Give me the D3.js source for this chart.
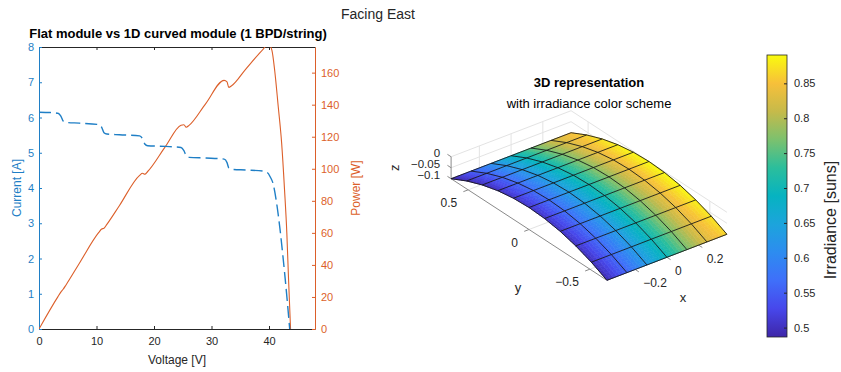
<!DOCTYPE html>
<html>
<head>
<meta charset="utf-8">
<script src="https://cdn.jsdelivr.net/npm/d3@7"></script>
<style>
  body { margin: 0; background: #fff; }
  svg { display: block; font-family: "Liberation Sans", Arial, Helvetica, sans-serif; }
</style>
</head>
<body>
<svg id="chart" width="841" height="372"></svg>
<script>
// ---- IV / PV curve (left) ----
const ivVoltage = [0, 2, 3.3, 3.8, 4.2, 4.7, 7, 10.4, 10.9, 11.3, 11.8, 14, 17.5, 18.0, 18.4, 18.9, 22, 24.7, 25.2, 25.6, 26.1, 29,
    32.2, 32.7, 33.0, 33.5, 36, 39.0, 39.7, 40.2, 40.75, 41.3, 41.9, 42.4, 42.8, 43.2, 43.6];
const current = [6.15, 6.14, 6.12, 6.04, 5.90, 5.86, 5.84, 5.80, 5.72, 5.57, 5.53, 5.51, 5.48, 5.40, 5.25, 5.20, 5.18, 5.15, 5.06, 4.92, 4.87, 4.85,
    4.82, 4.72, 4.57, 4.53, 4.51, 4.48, 4.44, 4.32, 4.10, 3.60, 2.85, 2.10, 1.45, 0.75, 0];
const pvVoltage = [0, 3.3, 3.8, 4.2, 4.7, 7, 10.4, 10.9, 11.3, 11.8, 14, 17.5, 18.0, 18.4, 18.9, 22, 24.7, 25.2, 25.6, 26.1, 29,
    32.2, 32.7, 33.0, 33.5, 36, 39.0, 39.9, 40.5, 41.0, 41.6, 42.2, 42.7, 43.1, 43.4, 43.75];
const power = [0, 20.2, 23.0, 24.8, 27.5, 40.9, 60.3, 62.4, 62.9, 65.3, 77.1, 95.9, 97.2, 96.6, 98.3, 114.0, 127.2, 127.5, 125.9, 127.1, 140.7,
    155.2, 154.3, 150.8, 151.8, 162.4, 174.7, 178, 174, 161, 139, 116, 87, 60, 31, 0];
const voltageTicks = [0, 10, 20, 30, 40];
const currentTicks = [0, 1, 2, 3, 4, 5, 6, 7, 8];
const powerTicks = [0, 20, 40, 60, 80, 100, 120, 140, 160];

// ---- 3D module (right) ----
const surfX = [-0.378, -0.252, -0.126, 0, 0.126, 0.252, 0.378];
const surfY = [-0.64, -0.512, -0.384, -0.256, -0.128, 0, 0.128, 0.256, 0.384, 0.512, 0.64];
const surfZ = [-0.100, -0.064, -0.036, -0.016, -0.004, 0, -0.004, -0.016, -0.036, -0.064, -0.100]; // bend along y
// irradiance [suns], rows follow surfY, columns follow surfX
const irradiance = [
  [0.493, 0.556, 0.626, 0.697, 0.766, 0.828, 0.866],
  [0.497, 0.560, 0.630, 0.701, 0.771, 0.834, 0.876],
  [0.500, 0.563, 0.633, 0.704, 0.775, 0.838, 0.884],
  [0.502, 0.565, 0.635, 0.706, 0.777, 0.840, 0.889],
  [0.503, 0.566, 0.636, 0.707, 0.778, 0.841, 0.8906],
  [0.503, 0.566, 0.636, 0.707, 0.778, 0.841, 0.8906],
  [0.502, 0.565, 0.635, 0.706, 0.777, 0.840, 0.889],
  [0.499, 0.562, 0.632, 0.703, 0.774, 0.837, 0.884],
  [0.495, 0.558, 0.628, 0.699, 0.769, 0.832, 0.876],
  [0.491, 0.553, 0.623, 0.693, 0.763, 0.825, 0.865],
  [0.4865, 0.548, 0.617, 0.687, 0.756, 0.817, 0.852]
];
const xTicks3d = [-0.2, 0, 0.2];
const yTicks3d = [-0.5, 0, 0.5];
const zTicks3d = [-0.1, -0.05, 0];
const colorbarTicks = [0.5, 0.55, 0.6, 0.65, 0.7, 0.75, 0.8, 0.85];

const parula = ["#3e26a8", "#4747eb", "#3f6ffa", "#2d8cf0", "#1ca4dc", "#06b3c1",
                "#2bbe9c", "#7cc16e", "#c6ba4a", "#f7c03a", "#f9fb0e"];

const svg = d3.select("#chart");
const ink = "#262626";
const blue = "#1f7fc6";
const orange = "#dc5f2a";

svg.append("text")
    .attr("x", 378).attr("y", 19)
    .attr("text-anchor", "middle")
    .attr("font-size", 14)
    .attr("fill", ink)
    .text("Facing East");

// ================= left: IV / PV =================
var x = d3.scaleLinear().domain([0, 48]).range([39, 315]);
var yI = d3.scaleLinear().domain([0, 8]).range([329, 47]);
var yP = d3.scaleLinear().domain([0, 176]).range([329, 47]);

var left = svg.append("g");

left.append("clipPath").attr("id", "ivclip")
    .append("rect").attr("x", 39).attr("y", 47).attr("width", 276).attr("height", 282);

// top box line
left.append("g")
    .attr("transform", "translate(0,47)")
    .call(d3.axisTop(x).tickValues(voltageTicks).tickSize(-3).tickSizeOuter(0).tickFormat(""))
    .call(g => g.selectAll("path,line").attr("stroke", ink));

left.append("g")
    .attr("transform", "translate(0,329)")
    .call(d3.axisBottom(x).tickValues(voltageTicks).tickSize(-3).tickSizeOuter(0).tickPadding(8))
    .call(g => g.selectAll("path,line").attr("stroke", ink))
    .call(g => g.selectAll("text").attr("fill", ink).attr("font-size", 11).attr("font-family", null));

left.append("g")
    .attr("transform", "translate(39,0)")
    .call(d3.axisLeft(yI).tickValues(currentTicks).tickSize(-3).tickSizeOuter(0).tickPadding(5))
    .call(g => g.selectAll("path,line").attr("stroke", blue))
    .call(g => g.selectAll("text").attr("fill", blue).attr("font-size", 11).attr("font-family", null));

left.append("g")
    .attr("transform", "translate(315,0)")
    .call(d3.axisRight(yP).tickValues(powerTicks).tickSize(-3).tickSizeOuter(0).tickPadding(6))
    .call(g => g.selectAll("path,line").attr("stroke", orange))
    .call(g => g.selectAll("text").attr("fill", orange).attr("font-size", 11).attr("font-family", null));

var ivLine = d3.line()
    .curve(d3.curveMonotoneX)
    .x(function (d, i) { return x(ivVoltage[i]); })
    .y(function (d) { return yI(d); });

var pvLine = d3.line()
    .curve(d3.curveMonotoneX)
    .x(function (d, i) { return x(pvVoltage[i]); })
    .y(function (d) { return yP(d); });

left.append("path")
    .attr("clip-path", "url(#ivclip)")
    .attr("d", pvLine(power))
    .attr("fill", "none")
    .attr("stroke", orange)
    .attr("stroke-width", 1.1);

left.append("path")
    .attr("clip-path", "url(#ivclip)")
    .attr("d", ivLine(current))
    .attr("fill", "none")
    .attr("stroke", blue)
    .attr("stroke-width", 1.4)
    .attr("stroke-dasharray", "12,5");

left.append("text")
    .attr("x", 178).attr("y", 38)
    .attr("text-anchor", "middle")
    .attr("font-size", 13).attr("font-weight", "bold")
    .attr("fill", "#000")
    .text("Flat module vs 1D curved module (1 BPD/string)");

left.append("text")
    .attr("x", 177).attr("y", 364)
    .attr("text-anchor", "middle")
    .attr("font-size", 12)
    .attr("fill", ink)
    .text("Voltage [V]");

left.append("text")
    .attr("transform", "translate(21,188) rotate(-90)")
    .attr("text-anchor", "middle")
    .attr("font-size", 12)
    .attr("fill", blue)
    .text("Current [A]");

left.append("text")
    .attr("transform", "translate(360,188) rotate(-90)")
    .attr("text-anchor", "middle")
    .attr("font-size", 12)
    .attr("fill", orange)
    .text("Power [W]");

// ================= right: 3D surface =================
const xLim3d = [-0.378, 0.378], yLim3d = [-0.64, 0.64], zLim3d = [-0.1, 0];
const az = -37.5 * Math.PI / 180, el = 30 * Math.PI / 180;
const px3 = d3.scaleLinear().domain(xLim3d).range([-75.6, 75.6]);
const py3 = d3.scaleLinear().domain(yLim3d).range([-128, 128]);
const pz3 = d3.scaleLinear().domain(zLim3d).range([-25.4, 0]);
const origin3d = [589, 184.5];

function project(p) {
    var a = px3(p[0]), b = py3(p[1]), c = pz3(p[2]);
    var u = Math.cos(az) * a + Math.sin(az) * b;
    var v = -Math.sin(el) * Math.sin(az) * a + Math.sin(el) * Math.cos(az) * b + Math.cos(el) * c;
    return [origin3d[0] + u, origin3d[1] - v];
}
function depth(p) {
    return px3(p[0]) * Math.sin(az) * Math.cos(el) - py3(p[1]) * Math.cos(az) * Math.cos(el) + pz3(p[2]) * Math.sin(el);
}

var cmap = d3.scaleLinear()
    .domain(d3.range(parula.length).map(function (i) { return i / (parula.length - 1); }))
    .range(parula)
    .interpolate(d3.interpolateRgb)
    .clamp(true);
var cLim = [d3.min(irradiance.flat()), d3.max(irradiance.flat())];
var cNorm = d3.scaleLinear().domain(cLim).range([0, 1]);

var plot3 = svg.append("g");
var seg = d3.line();
var grid = plot3.append("g").attr("stroke", "#e3e3e3").attr("stroke-width", 1).attr("fill", "none");
function line3(g, a, b) { g.append("path").attr("d", seg([project(a), project(b)])); }

var xmin = xLim3d[0], xmax = xLim3d[1], ymin = yLim3d[0], ymax = yLim3d[1], zmin = zLim3d[0], zmax = zLim3d[1];
xTicks3d.forEach(function (t) {
    line3(grid, [t, ymax, zmin], [t, ymax, zmax]);
    line3(grid, [t, ymin, zmin], [t, ymax, zmin]);
});
yTicks3d.forEach(function (t) {
    line3(grid, [xmax, t, zmin], [xmax, t, zmax]);
    line3(grid, [xmin, t, zmin], [xmax, t, zmin]);
});
zTicks3d.forEach(function (t) {
    line3(grid, [xmin, ymax, t], [xmax, ymax, t]);
    line3(grid, [xmax, ymin, t], [xmax, ymax, t]);
});

var axes3 = plot3.append("g").attr("stroke", "#8a8a8a").attr("stroke-width", 1).attr("fill", "none");
line3(axes3, [xmin, ymin, zmin], [xmax, ymin, zmin]);
line3(axes3, [xmin, ymin, zmin], [xmin, ymax, zmin]);
line3(axes3, [xmin, ymax, zmin], [xmin, ymax, zmax]);
xTicks3d.forEach(function (t) { line3(axes3, [t, ymin, zmin], [t, ymin - 0.03, zmin]); });
yTicks3d.forEach(function (t) { line3(axes3, [xmin, t, zmin], [xmin - 0.03, t, zmin]); });
zTicks3d.forEach(function (t) { line3(axes3, [xmin, ymax, t], [xmin, ymax + 0.03, t]); });

// faces with interpolated colour
var cells = [];
for (var j = 0; j < surfY.length - 1; j++) {
    for (var i = 0; i < surfX.length - 1; i++) {
        cells.push({ i: i, j: j, d: depth([(surfX[i] + surfX[i + 1]) / 2, (surfY[j] + surfY[j + 1]) / 2, (surfZ[j] + surfZ[j + 1]) / 2]) });
    }
}
cells.sort(function (a, b) { return a.d - b.d; });

var faces = plot3.append("g");
var sub = 6;
cells.forEach(function (c) {
    var i = c.i, j = c.j;
    function at(s, t) {
        return [surfX[i] + (surfX[i + 1] - surfX[i]) * s,
                surfY[j] + (surfY[j + 1] - surfY[j]) * t,
                surfZ[j] + (surfZ[j + 1] - surfZ[j]) * t];
    }
    function val(s, t) {
        var a = irradiance[j][i], b = irradiance[j][i + 1], cc = irradiance[j + 1][i], dd = irradiance[j + 1][i + 1];
        return a * (1 - s) * (1 - t) + b * s * (1 - t) + cc * (1 - s) * t + dd * s * t;
    }
    for (var a = 0; a < sub; a++) {
        for (var b = 0; b < sub; b++) {
            var s0 = a / sub, s1 = (a + 1) / sub, t0 = b / sub, t1 = (b + 1) / sub;
            var col = cmap(cNorm(val((s0 + s1) / 2, (t0 + t1) / 2)));
            faces.append("path")
                .attr("d", seg([at(s0, t0), at(s1, t0), at(s1, t1), at(s0, t1)].map(project)) + "Z")
                .attr("fill", col)
                .attr("stroke", col)
                .attr("stroke-width", 0.6);
        }
    }
});

// mesh edges
var edges = plot3.append("g").attr("fill", "none").attr("stroke", "#141414").attr("stroke-width", 1).attr("stroke-opacity", 0.85);
surfY.forEach(function (yv, j) {
    edges.append("path").attr("d", seg(surfX.map(function (xv) { return project([xv, yv, surfZ[j]]); })));
});
surfX.forEach(function (xv) {
    edges.append("path").attr("d", seg(surfY.map(function (yv, j) { return project([xv, yv, surfZ[j]]); })));
});

// tick labels
var lab3 = plot3.append("g").attr("font-size", 12).attr("fill", ink);
xTicks3d.forEach(function (t) {
    var p = project([t, ymin, zmin]);
    lab3.append("text").attr("x", p[0] + 8).attr("y", p[1] + 18).attr("text-anchor", "start").text(d3.format("")(t).replace("-", "\u2212"));
});
yTicks3d.forEach(function (t) {
    var p = project([xmin, t, zmin]);
    lab3.append("text").attr("x", p[0] - 11).attr("y", p[1] + 17).attr("text-anchor", "end").text(d3.format("")(t).replace("-", "\u2212"));
});
zTicks3d.forEach(function (t) {
    var p = project([xmin, ymax, t]);
    lab3.append("text").attr("x", p[0] - 11).attr("y", p[1] + 0.5).attr("text-anchor", "end")
        .attr("font-size", 11.5).text(d3.format("")(t).replace("-", "\u2212"));
});

var xMid = project([0, ymin, zmin]), yMid = project([xmin, 0, zmin]), zMid = project([xmin, ymax, (zmin + zmax) / 2]);
lab3.append("text").attr("x", xMid[0] + 16).attr("y", xMid[1] + 45).attr("text-anchor", "middle").attr("font-size", 13).text("x");
lab3.append("text").attr("x", yMid[0] - 11).attr("y", yMid[1] + 62).attr("text-anchor", "middle").attr("font-size", 13).text("y");
lab3.append("text").attr("transform", "translate(" + (zMid[0] - 52) + "," + zMid[1] + ") rotate(-90)")
    .attr("text-anchor", "middle").attr("font-size", 13).text("z");

plot3.append("text").attr("x", 589).attr("y", 87).attr("text-anchor", "middle")
    .attr("font-size", 13).attr("font-weight", "bold").attr("fill", "#000").text("3D representation");
plot3.append("text").attr("x", 589).attr("y", 108).attr("text-anchor", "middle")
    .attr("font-size", 13).attr("fill", "#000").text("with irradiance color scheme");

// ================= colorbar =================
var cb = d3.scaleLinear().domain(cLim).range([337, 55]);
var defs = svg.append("defs");
var grad = defs.append("linearGradient").attr("id", "parulaGrad")
    .attr("x1", 0).attr("y1", 1).attr("x2", 0).attr("y2", 0);
parula.forEach(function (c, k) {
    grad.append("stop").attr("offset", k / (parula.length - 1)).attr("stop-color", c);
});
svg.append("rect").attr("x", 767).attr("y", cb(cLim[1])).attr("width", 20).attr("height", cb(cLim[0]) - cb(cLim[1]))
    .attr("fill", "url(#parulaGrad)").attr("stroke", ink).attr("stroke-width", 0.8);
svg.append("g")
    .attr("transform", "translate(787,0)")
    .call(d3.axisRight(cb).tickValues(colorbarTicks).tickSize(-3).tickSizeOuter(0).tickPadding(7).tickFormat(d3.format("")))
    .call(g => g.select(".domain").remove())
    .call(g => g.selectAll("line").attr("stroke", ink))
    .call(g => g.selectAll("text").attr("fill", ink).attr("font-size", 11).attr("font-family", null));
svg.append("text")
    .attr("transform", "translate(836,220) rotate(-90)")
    .attr("text-anchor", "middle")
    .attr("font-size", 16)
    .attr("fill", ink)
    .text("Irradiance [suns]");
</script>
</body>
</html>
